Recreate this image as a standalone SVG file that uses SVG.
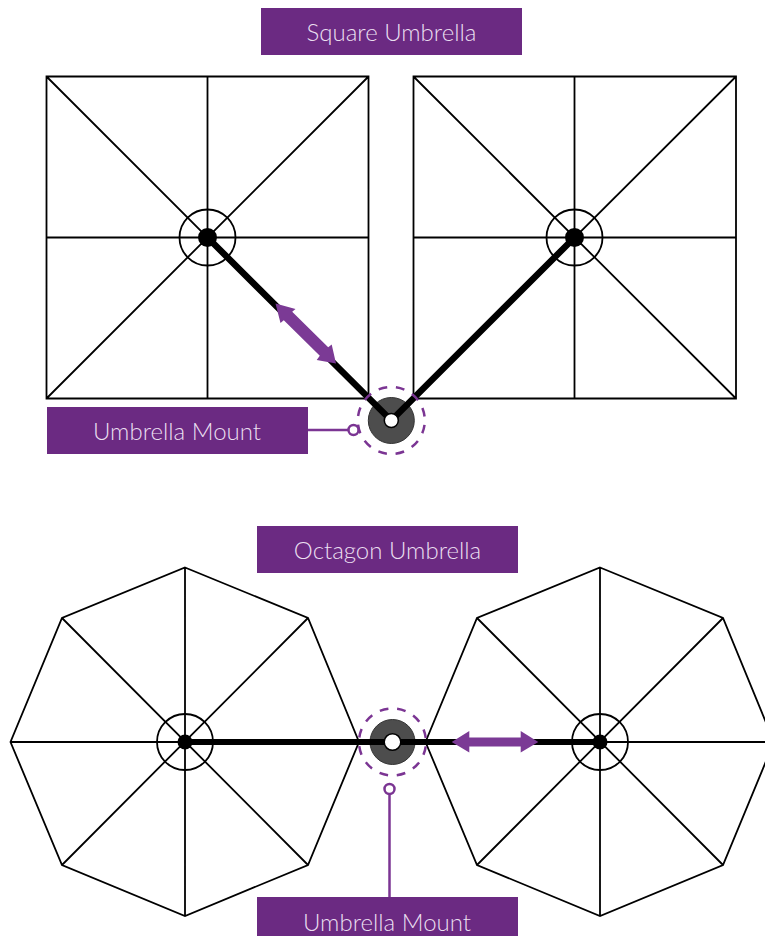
<svg xmlns="http://www.w3.org/2000/svg" width="765" height="936" viewBox="0 0 765 936">
<style>
.label{fill:#6b2a82}
.txt{font-family:"Lato","Liberation Sans",sans-serif;font-weight:300;font-size:24px;fill:#eadff0;text-anchor:middle}
.thin{fill:none;stroke:#000;stroke-width:1.8}
.pole{fill:none;stroke:#000;stroke-width:6}
.pole-d{fill:none;stroke:#000;stroke-width:6.5}
.hub{fill:#000}
.base{fill:#4d4d4d;stroke:#333;stroke-width:1}
.hole{fill:#fff;stroke:#000;stroke-width:1.5}
.dash{fill:none;stroke:#7b3593;stroke-width:2.5;stroke-dasharray:8.77 8.77;stroke-dashoffset:-4.385}
.lead{fill:none;stroke:#7b3593;stroke-width:2.5}
.ring{fill:#fff;stroke:#7b3593;stroke-width:2.5}
.arrow{fill:#7b3a95}
</style>
<rect width="765" height="936" fill="#fff"/>
<g id="square-title"><rect class="label" x="261" y="8" width="261" height="47"/><text class="txt" x="391.5" y="41">Square Umbrella</text></g>
<g id="square-left"><path class="thin" d="M46.500 76.500H368.500V398.500H46.500ZM46.500 76.500L368.500 398.500M368.500 76.500L46.500 398.500M207.500 76.500V398.500M46.500 237.500H368.500"/><circle class="thin" cx="207.500" cy="237.500" r="28"/><circle class="hub" cx="207.500" cy="237.500" r="9.500"/></g>
<g id="square-right"><path class="thin" d="M413.500 76.500H736V398.500H413.500ZM413.500 76.500L736 398.500M736 76.500L413.500 398.500M574.500 76.500V398.500M413.500 237.500H736"/><circle class="thin" cx="574.500" cy="237.500" r="28"/><circle class="hub" cx="574.500" cy="237.500" r="9.500"/></g>
<g id="octagon-title"><rect class="label" x="257" y="526" width="261" height="47"/><text class="txt" x="387.500" y="559">Octagon Umbrella</text></g>
<g id="octagon-left"><path class="thin" d="M185 567.500L308 618L359 742L308 865L185 916L62 865L10.500 742L62 618ZM185 567.500V916M10.500 742H359M62 618L308 865M308 618L62 865"/><circle class="thin" cx="185" cy="742" r="28"/><circle class="hub" cx="185" cy="742" r="7.500"/></g>
<g id="octagon-right"><path class="thin" d="M600 567.500L723 618L774 742L723 865L600 916L477 865L425.500 742L477 618ZM600 567.500V916M425.500 742H774M477 618L723 865M723 618L477 865"/><circle class="thin" cx="600" cy="742" r="28"/><circle class="hub" cx="600" cy="742" r="7.500"/></g>
<g id="square-mount"><circle class="base" cx="391.300" cy="420.500" r="23"/></g>
<g id="octagon-mount"><circle class="base" cx="392.500" cy="742" r="22.500"/></g>
<g id="connectors">
<path class="pole-d" d="M207.500 237.500L391.300 420.500L574.500 237.500"/>
<path class="pole" d="M185 742H600"/>
</g>
<g id="square-mount-top"><circle class="hole" cx="391.300" cy="420.500" r="7"/><circle class="dash" cx="391.300" cy="420.500" r="33.500"/></g>
<g id="octagon-mount-top"><circle class="hole" cx="392.500" cy="742" r="8.300"/><circle class="dash" cx="392.500" cy="742" r="33.500"/></g>
<g id="square-arrow"><path class="arrow" d="M275.500 303.500L295.500 309L292.200 311.800L328.200 347.300L331.700 344.500L336 363.500L316.700 360L319.800 355.700L283.800 320.200L280.500 323Z"/></g>
<g id="octagon-arrow"><path class="arrow" d="M451.700 742L469.300 731V737.500H520.700V731L538.300 742L520.700 752.500V746.500H469.300V752.500Z"/></g>
<g id="mount-label-top"><rect class="label" x="47" y="407" width="261" height="47"/><text class="txt" x="177" y="440">Umbrella Mount</text><path class="lead" d="M308 430H348"/><circle class="ring" cx="353.500" cy="430" r="5"/></g>
<g id="mount-label-bottom"><rect class="label" x="257" y="897" width="261" height="39"/><text class="txt" x="387" y="931">Umbrella Mount</text><path class="lead" d="M389.500 897V795"/><circle class="ring" cx="389.500" cy="789" r="5"/></g>
</svg>
